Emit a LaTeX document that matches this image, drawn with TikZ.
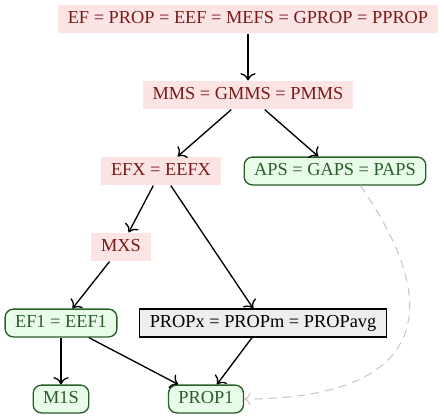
\documentclass[tikz,border=0pt]{standalone}
\usepackage{fontspec}
\setmainfont{Liberation Serif}
\usepackage{tikz}
\usetikzlibrary{arrows.meta}
\definecolor{pinkfill}{HTML}{FCE4E4}
\definecolor{darkred}{HTML}{7A1A1A}
\definecolor{greenfill}{HTML}{E9FBE9}
\definecolor{darkgreen}{HTML}{2A5E2A}
\definecolor{grayfill}{HTML}{EEEEEE}
\tikzset{every path/.style={thick},>={To[scale=1.3]},
  box/.style={font=\fontsize{11}{13}\selectfont,text height=7.3pt,text depth=2pt,inner xsep=6pt,inner ysep=3.7pt},
  pinkbox/.style={box,fill=pinkfill,text=darkred},
  greenbox/.style={box,draw=darkgreen,fill=greenfill,text=darkgreen,rounded corners=5pt},
  graybox/.style={box,draw=black,fill=grayfill}}

\begin{document}
\begin{tikzpicture}[x=0.6pt,y=-0.6pt]
    \useasboundingbox (0,0) rectangle (444,418);

    \node[pinkbox] (ef) at (248,19) {EF = PROP = EEF = MEFS = GPROP = PPROP};
    \node[pinkbox] (mms) at (248,95) {MMS = GMMS = PMMS};
    \node[pinkbox] (efx) at (161,171) {EFX = EEFX};
    \node[greenbox] (aps) at (335,171) {APS = GAPS = PAPS};
    \node[pinkbox] (mxs) at (121,247) {MXS};
    \node[greenbox] (ef1) at (61,323) {EF1 = EEF1};
    \node[graybox] (propx) at (263,323) {PROPx = PROPm = PROPavg};
    \node[greenbox] (m1s) at (61,399) {M1S};
    \node[greenbox] (prop1) at (206,399) {PROP1};

    \draw[->] (ef) -- (mms);
    \draw[->] (mms) -- (efx);
    \draw[->] (mms) -- (aps);
    \draw[->] (efx) -- (mxs);
    \draw[->] (efx) -- (propx);
    \draw[->] (mxs) -- (ef1);
    \draw[->] (ef1) -- (m1s);
    \draw[->] (ef1) -- (prop1);
    \draw[->] (propx) -- (prop1);

    \draw[->,semithick,dash pattern=on 5pt off 3.5pt,gray!45] (aps.-30) to[out=-55,in=0,looseness=1.75] (prop1);
  \end{tikzpicture}
\end{document}
